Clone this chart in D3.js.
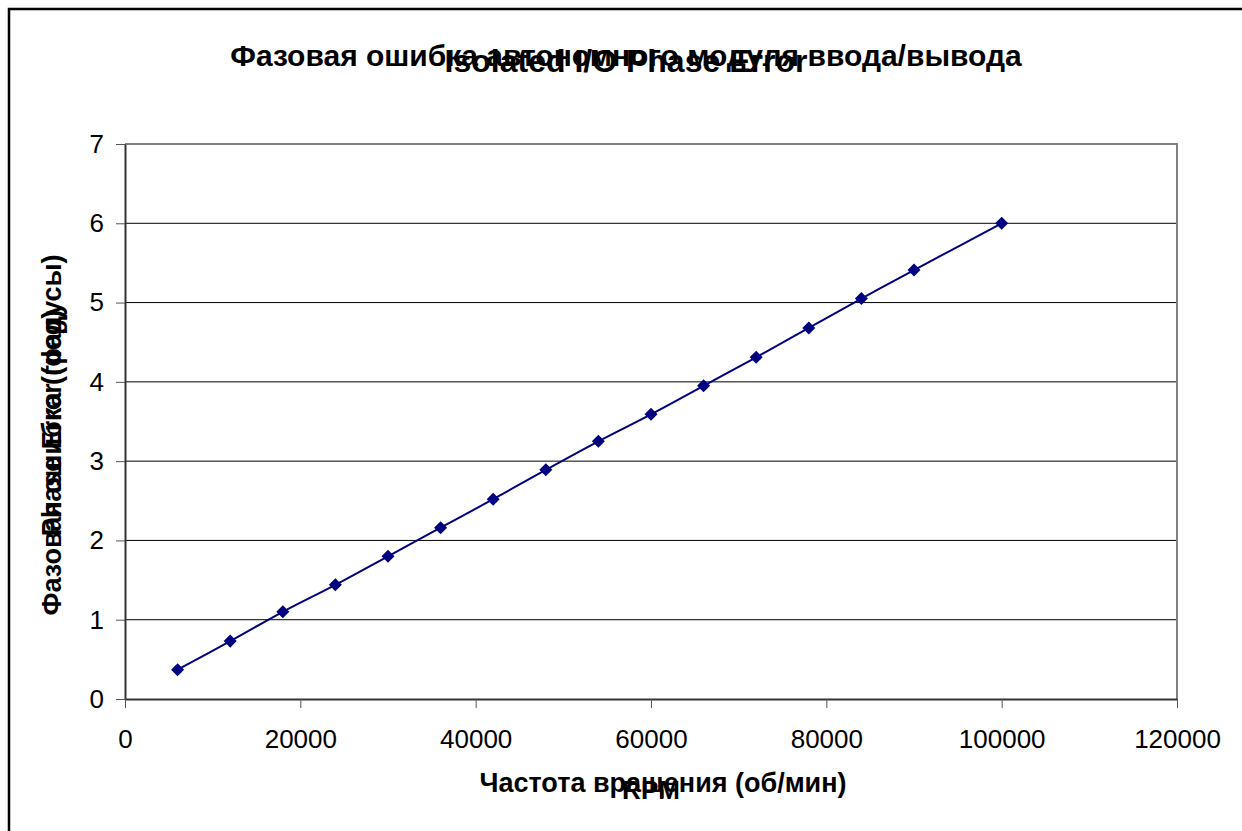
<!DOCTYPE html>
<meta charset="utf-8">
<style>
body { margin: 0; background: #fff; }
text { font-family: "Liberation Sans", Arial, sans-serif; }
</style>
<body>
<div id="box1"></div>
</body>
<script src="https://d3js.org/d3.v7.min.js"></script>
<script>

var width = 1242, height = 831;
var margin = {top: 144, right: 65, bottom: 132, left: 125};

// data
var rpm = [6000, 12000, 18000, 24000, 30000, 36000, 42000, 48000, 54000,
           60000, 66000, 72000, 78000, 84000, 90000, 100000];
var phaseErr = [0.37, 0.73, 1.10, 1.44, 1.80, 2.16, 2.52, 2.89, 3.25,
                3.59, 3.95, 4.31, 4.68, 5.05, 5.41, 6.00];
var xTicks = [0, 20000, 40000, 60000, 80000, 100000, 120000];
var yTicks = [0, 1, 2, 3, 4, 5, 6, 7];

var data = rpm.map((r, i) => ({x: r, y: phaseErr[i]}));

var x = d3.scaleLinear([0, 120000], [margin.left, width - margin.right]);
var y = d3.scaleLinear([0, 7], [height - margin.bottom, margin.top]);

var svg = d3.select("#box1").append("svg")
    .attr("width", width)
    .attr("height", height);

// outer chart border
svg.append("rect")
    .attr("x", 9).attr("y", 9)
    .attr("width", width + 20).attr("height", height + 20)
    .attr("fill", "none").attr("stroke", "#000").attr("stroke-width", 2.5);

// gridlines
svg.append("g").selectAll("line")
    .data(yTicks.filter(d => d > 0 && d < 7))
    .join("line")
      .attr("x1", x(0)).attr("x2", x(120000))
      .attr("y1", d => y(d)).attr("y2", d => y(d))
      .attr("stroke", "#000").attr("stroke-width", 1);

// plot area border (top and right)
svg.append("path")
    .attr("d", `M${x(0)},${y(7)}H${x(120000)}V${y(0)}`)
    .attr("fill", "none").attr("stroke", "#808080").attr("stroke-width", 2);

var yAxis = d3.axisLeft(y).tickValues(yTicks).tickFormat(d3.format("d")).tickSize(9).tickSizeOuter(0);
var xAxis = d3.axisBottom(x).tickValues(xTicks).tickFormat(d3.format("d")).tickSize(9).tickSizeOuter(0);

var gy = svg.append("g").attr("transform", `translate(${x(0)},0)`).call(yAxis);
var gx = svg.append("g").attr("transform", `translate(0,${y(0)})`).call(xAxis);

[gy, gx].forEach(g => {
  g.attr("font-size", 26).attr("font-family", "Liberation Sans, Arial, sans-serif");
  g.select(".domain").attr("stroke", "#333").attr("stroke-width", 2);
  g.selectAll(".tick line").attr("stroke", "#555");
  g.selectAll(".tick text").attr("fill", "#000");
});
gy.selectAll(".tick text").attr("x", -21);
gx.selectAll(".tick text").attr("y", 31);

// series line
var line = d3.line().x(d => x(d.x)).y(d => y(d.y)).curve(d3.curveCatmullRom);
svg.append("path")
    .datum(data)
    .attr("d", line)
    .attr("fill", "none").attr("stroke", "#000080").attr("stroke-width", 2);

// diamond markers
svg.append("g").selectAll("path")
    .data(data)
    .join("path")
      .attr("transform", d => `translate(${x(d.x)},${y(d.y)}) rotate(45)`)
      .attr("d", "M-4.6,-4.6h9.2v9.2h-9.2z")
      .attr("fill", "#000080");

// titles: Russian and English overlap as in the original
svg.append("text")
    .attr("x", 626).attr("y", 66)
    .attr("text-anchor", "middle")
    .attr("font-weight", "bold").attr("font-size", 30)
    .text("Фазовая ошибка автономного модуля ввода/вывода");
svg.append("text")
    .attr("x", 626).attr("y", 72)
    .attr("text-anchor", "middle")
    .attr("font-weight", "bold").attr("font-size", 32)
    .text("Isolated I/O Phase Error");

svg.append("text")
    .attr("transform", "translate(61,435) rotate(-90)")
    .attr("text-anchor", "middle")
    .attr("font-weight", "bold").attr("font-size", 27)
    .text("Фазовая ошибка (градусы)");
svg.append("text")
    .attr("transform", "translate(61,423) rotate(-90)")
    .attr("text-anchor", "middle")
    .attr("font-weight", "bold").attr("font-size", 27)
    .text("Phase Error (deg)");

svg.append("text")
    .attr("x", 663).attr("y", 792)
    .attr("text-anchor", "middle")
    .attr("font-weight", "bold").attr("font-size", 27)
    .text("Частота вращения (об/мин)");
svg.append("text")
    .attr("x", 651).attr("y", 799)
    .attr("text-anchor", "middle")
    .attr("font-weight", "bold").attr("font-size", 26)
    .text("RPM");

</script>
